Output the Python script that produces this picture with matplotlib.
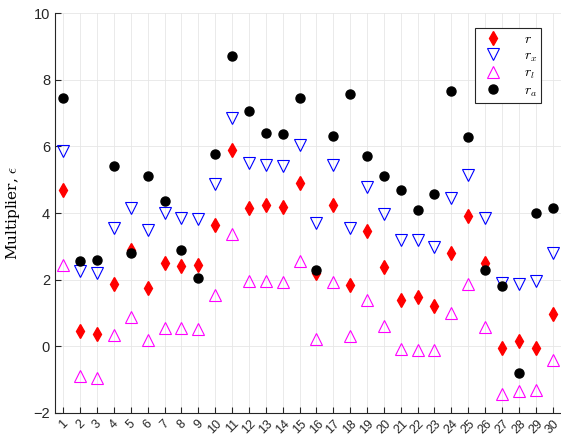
import matplotlib
matplotlib.use("Agg")
import matplotlib.pyplot as plt
import numpy as np

# Multiplier values per case
cases = list(range(1, 31))
r_vals = [4.70, 0.45, 0.37, 1.87, 2.90, 1.75, 2.50, 2.42, 2.45, 3.65,
          5.90, 4.15, 4.25, 4.18, 4.90, 2.20, 4.25, 1.85, 3.45, 2.38,
          1.40, 1.47, 1.22, 2.80, 3.90, 2.50, -0.05, 0.16, -0.05, 0.97]
rx_vals = [5.85, 2.25, 2.20, 3.55, 4.15, 3.50, 4.00, 3.85, 3.82, 4.88,
           6.85, 5.50, 5.45, 5.42, 6.05, 3.70, 5.45, 3.55, 4.78, 3.98,
           3.20, 3.20, 2.98, 4.45, 5.15, 3.85, 1.90, 1.88, 1.95, 2.80]
rl_vals = [2.45, -0.90, -0.95, 0.35, 0.88, 0.20, 0.55, 0.55, 0.52, 1.55,
           3.38, 1.95, 1.97, 1.92, 2.55, 0.22, 1.92, 0.30, 1.40, 0.60,
           -0.08, -0.10, -0.12, 1.00, 1.88, 0.58, -1.42, -1.35, -1.30, -0.42]
ra_vals = [7.45, 2.55, 2.58, 5.42, 2.80, 5.10, 4.35, 2.90, 2.05, 5.78,
           8.70, 7.05, 6.40, 6.38, 7.45, 2.28, 6.30, 7.58, 5.72, 5.10,
           4.70, 4.10, 4.57, 7.65, 6.27, 2.28, 1.82, -0.80, 4.00, 4.15]

plt.rcParams['font.family'] = ['Liberation Sans', 'DejaVu Sans']
plt.rcParams['mathtext.fontset'] = 'cm'

fig = plt.figure(figsize=(5.61, 4.37), dpi=100)
ax = fig.add_axes([0.098, 0.055, 0.902, 0.915])

ax.plot(cases, r_vals, linestyle='none', marker='d', color='red',
        markersize=7, label=r'$r$')
ax.plot(cases, rx_vals, linestyle='none', marker='v', markerfacecolor='none',
        markeredgecolor='blue', markersize=8.5, markeredgewidth=0.8, label=r'$r_x$')
ax.plot(cases, rl_vals, linestyle='none', marker='^', markerfacecolor='none',
        markeredgecolor='magenta', markersize=8.5, markeredgewidth=0.8, label=r'$r_l$')
ax.plot(cases, ra_vals, linestyle='none', marker='o', color='black',
        markersize=6.5, label=r'$r_a$')

ax.set_xlim(0.5, 30.5)
ax.set_ylim(-2, 10)
ax.set_xticks(cases)
ax.set_xticklabels([str(c) for c in cases], rotation=45, fontsize=9,
                   ha='center', va='top')
ax.set_yticks(np.arange(-2, 11, 2))
ax.tick_params(axis='y', labelsize=10.5)
ax.tick_params(direction='in', length=4, color='#262626', labelcolor='#262626')
ax.grid(True, color='#e6e6e6', linewidth=0.6)
ax.set_axisbelow(True)
for side in ['top', 'right']:
    ax.spines[side].set_visible(False)
for side in ['left', 'bottom']:
    ax.spines[side].set_color('#262626')
    ax.spines[side].set_linewidth(0.8)

ax.set_ylabel(r'Multiplier, $\epsilon$', family='DejaVu Serif', fontsize=11,
              math_fontfamily='cm')
ax.yaxis.set_label_coords(-0.065, 0.5)

leg = ax.legend(loc='upper right', bbox_to_anchor=(0.975, 0.98), fancybox=False,
                edgecolor='#262626', framealpha=1, fontsize=10,
                handletextpad=1.2, borderpad=0.3, labelspacing=0.15,
                markerfirst=True)
leg.get_frame().set_linewidth(0.8)

fig.savefig('out.png', dpi=100)
